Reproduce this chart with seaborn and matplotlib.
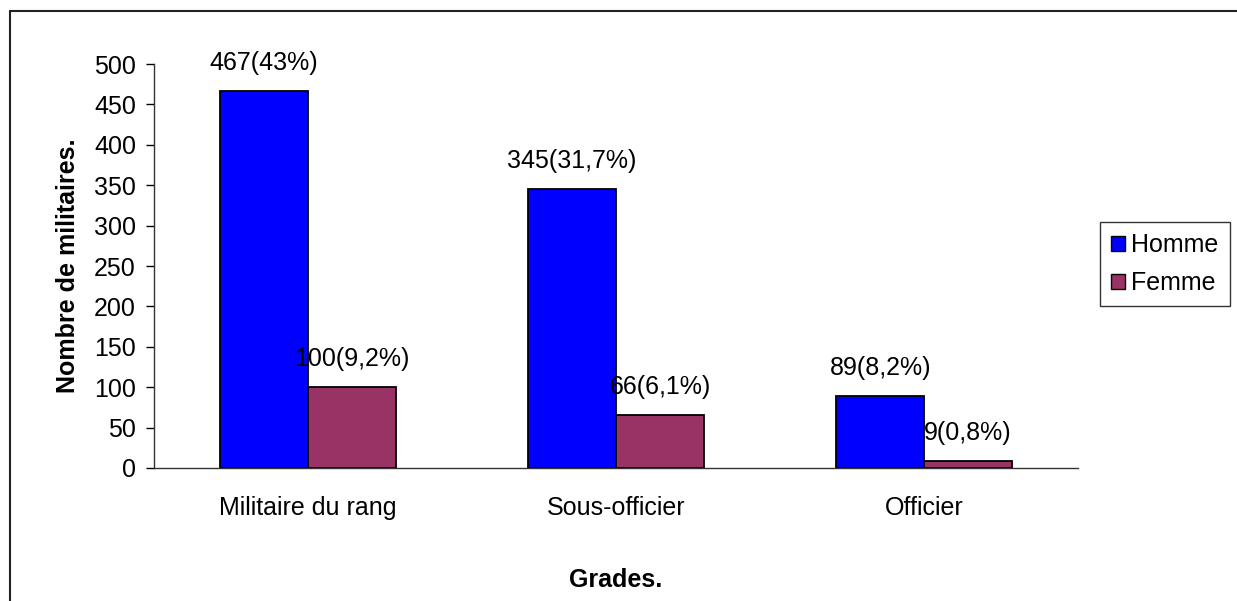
import pandas as pd
import matplotlib.pyplot as plt
import seaborn as sns
from matplotlib.lines import Line2D
from matplotlib.ticker import FixedLocator

# Data
grades = ['Militaire du rang', 'Sous-officier', 'Officier']
homme = [467, 345, 89]
femme = [100, 66, 9]
labels_homme = ['467(43%)', '345(31,7%)', '89(8,2%)']
labels_femme = ['100(9,2%)', '66(6,1%)', '9(0,8%)']

df = pd.DataFrame({
    'Grade': grades * 2,
    'Sexe': ['Homme'] * 3 + ['Femme'] * 3,
    'Nombre': homme + femme,
})

sns.set_style('white')
plt.rcParams['font.family'] = ['Liberation Sans', 'DejaVu Sans']
plt.rcParams['font.size'] = 18
for k in ['text.color', 'axes.labelcolor', 'xtick.color', 'ytick.color']:
    plt.rcParams[k] = 'black'

fig = plt.figure(figsize=(12.37, 6.01), dpi=100)
ax = fig.add_axes([0.1245, 0.2213, 0.747, 0.6722])

sns.barplot(data=df, x='Grade', y='Nombre', hue='Sexe', order=grades,
            hue_order=['Homme', 'Femme'],
            palette={'Homme': '#0000FF', 'Femme': '#993366'},
            width=0.57, edgecolor='black', linewidth=1.3, saturation=1,
            ax=ax)

# value labels above each bar
for cont, labs in zip(ax.containers, [labels_homme, labels_femme]):
    for bar, lab in zip(cont, labs):
        ax.annotate(lab, (bar.get_x() + bar.get_width() / 2, bar.get_height()),
                    xytext=(0, 20), textcoords='offset points',
                    ha='center', va='center', fontsize=18)

ax.set_ylim(0, 500)
ax.set_xlim(-0.5, 2.5)
ax.set_yticks(range(0, 501, 50))
ax.xaxis.set_minor_locator(FixedLocator([-0.5, 0.5, 1.5, 2.5]))
ax.tick_params(axis='x', which='major', length=0, pad=20, labelsize=18)
ax.tick_params(axis='x', which='minor', length=6, width=1, color='black', direction='out')
ax.tick_params(axis='y', length=6, width=1, color='black', direction='out', pad=7, labelsize=18, left=True)

for s in ['top', 'right']:
    ax.spines[s].set_visible(False)
for s in ['left', 'bottom']:
    ax.spines[s].set_color('#333333')
    ax.spines[s].set_linewidth(1)

ax.set_xlabel('Grades.', fontweight='bold', fontsize=18, labelpad=35)
ax.set_ylabel('Nombre de militaires.', fontweight='bold', fontsize=18, labelpad=10)

leg = ax.legend(loc='center left', bbox_to_anchor=(1100 / 1237, 1 - 264 / 601),
                bbox_transform=fig.transFigure, frameon=True, fancybox=False,
                edgecolor='black', handlelength=0.55, handleheight=0.55,
                handletextpad=0.25, labelspacing=0.55, borderpad=0.45,
                borderaxespad=0, fontsize=18, title=None)
leg.get_frame().set_linewidth(1)
for h in leg.legend_handles:
    h.set_edgecolor('black')
    h.set_linewidth(1)

# outer chart border (top and left edges only are visible)
fig.add_artist(Line2D([10 / 1237, 1], [1 - 11 / 601, 1 - 11 / 601], color='#222222', lw=1.5))
fig.add_artist(Line2D([10 / 1237, 10 / 1237], [0, 1 - 11 / 601], color='#222222', lw=1.5))

fig.savefig('out.png', dpi=100)
